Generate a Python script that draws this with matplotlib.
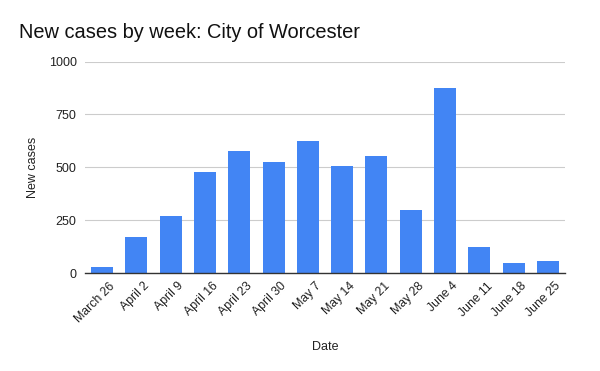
import matplotlib
matplotlib.use("Agg")
import matplotlib.pyplot as plt
import matplotlib.transforms as mtransforms
import numpy as np

plt.rcParams["font.family"] = ["Liberation Sans", "DejaVu Sans"]

# weekly new cases
dates = ["March 26", "April 2", "April 9", "April 16", "April 23", "April 30",
         "May 7", "May 14", "May 21", "May 28", "June 4", "June 11",
         "June 18", "June 25"]
new_cases = [28, 170, 270, 476, 577, 524, 624, 505, 553, 297, 877, 123, 47, 58]
y_ticks = [0, 250, 500, 750, 1000]

fig = plt.figure(figsize=(6.0, 3.71), dpi=100)
ax = fig.add_axes([0.1417, 0.264, 0.80, 0.570])

x = np.arange(len(dates))
ax.bar(x, new_cases, width=0.64, color="#4285F4", zorder=3)

ax.set_xlim(-0.5, len(dates) - 0.5)
ax.set_ylim(0, 1000)
ax.set_yticks(y_ticks)
ax.set_yticklabels([str(t) for t in y_ticks], fontsize=9, color="#222222")
ax.set_xticks(x)
ax.set_xticklabels(dates, rotation=45, ha="right", rotation_mode="anchor",
                   fontsize=8.8, color="#222222")
ax.tick_params(axis="both", length=0)
ax.tick_params(axis="y", pad=6)
ax.tick_params(axis="x", pad=5)

# google charts puts the rotated labels a bit right of the bar centre
shift = mtransforms.ScaledTranslation(7 / 100, 0, fig.dpi_scale_trans)
for lbl in ax.get_xticklabels():
    lbl.set_transform(lbl.get_transform() + shift)

ax.grid(axis="y", color="#cccccc", linewidth=0.8, zorder=0)
for s in ["top", "right", "left"]:
    ax.spines[s].set_visible(False)
ax.spines["bottom"].set_color("#333333")
ax.spines["bottom"].set_linewidth(1)
ax.spines["bottom"].set_zorder(4)

ax.set_ylabel("New cases", fontsize=9, color="#222222", labelpad=7)
ax.set_xlabel("Date", fontsize=9, color="#222222", labelpad=12)

fig.text(0.032, 0.913, "New cases by week: City of Worcester", fontsize=14.4,
         color="#111111", ha="left", va="center")

fig.savefig("out.png", dpi=100, facecolor="white")
